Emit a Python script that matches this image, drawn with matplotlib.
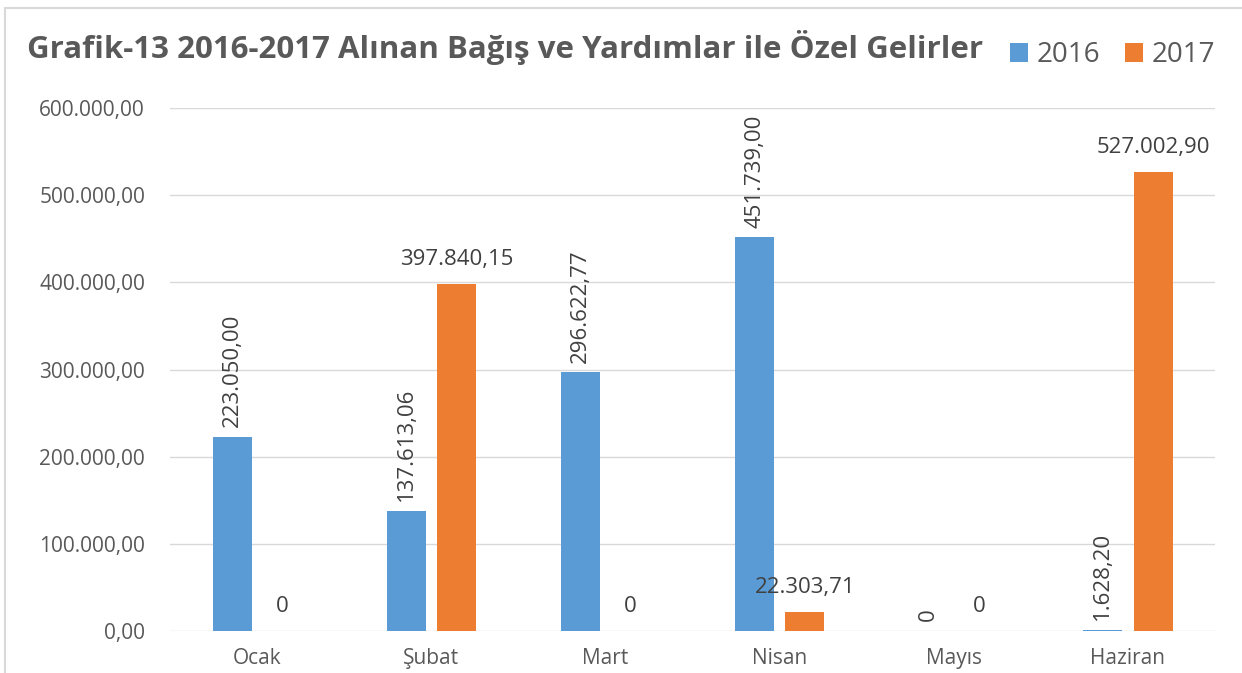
import matplotlib
matplotlib.use('Agg')
import matplotlib.pyplot as plt
from matplotlib.patches import Rectangle
import numpy as np

# veri
aylar = ['Ocak', 'Şubat', 'Mart', 'Nisan', 'Mayıs', 'Haziran']
y2016 = [223050.00, 137613.06, 296622.77, 451739.00, 0, 1628.20]
y2017 = [0, 397840.15, 0, 22303.71, 0, 527002.90]
etiket2016 = ['223.050,00', '137.613,06', '296.622,77', '451.739,00', '0', '1.628,20']
etiket2017 = ['0', '397.840,15', '0', '22.303,71', '0', '527.002,90']
yticks = [0, 100000, 200000, 300000, 400000, 500000, 600000]
ytick_labels = ['0,00', '100.000,00', '200.000,00', '300.000,00', '400.000,00', '500.000,00', '600.000,00']

mavi = '#5B9BD5'
turuncu = '#ED7D31'

plt.rcParams['font.family'] = ['Open Sans', 'DejaVu Sans']

fig = plt.figure(figsize=(12.42, 6.73), dpi=100)
ax = fig.add_axes([0.1369, 0.0624, 0.8414, 0.7771])

x = np.arange(len(aylar))
w = 0.224
off = 0.144
b1 = ax.bar(x - off, y2016, w, color=mavi, label='2016')
b2 = ax.bar(x + off, y2017, w, color=turuncu, label='2017')

# etiketler
for xi, v, t in zip(x, y2016, etiket2016):
    ax.annotate(t, (xi - off, v), xytext=(0, 7), textcoords='offset points',
                rotation=90, ha='center', va='bottom', fontsize=16, color='#404040')
for xi, v, t in zip(x, y2017, etiket2017):
    ax.annotate(t, (xi + off, v), xytext=(0, 10), textcoords='offset points',
                ha='center', va='bottom', fontsize=16, color='#404040')

ax.set_xlim(-0.5, len(aylar) - 0.5)
ax.set_ylim(0, 600000)
ax.set_yticks(yticks)
ax.set_yticklabels(ytick_labels, fontsize=15, color='#595959')
ax.set_xticks(x)
ax.set_xticklabels(aylar, fontsize=15, color='#595959')
ax.tick_params(length=0)
ax.tick_params(axis='x', pad=12)
ax.tick_params(axis='y', pad=18)
ax.grid(axis='y', color='#D9D9D9', linewidth=1)
ax.set_axisbelow(True)
for s in ax.spines.values():
    s.set_visible(False)

fig.text(0.022, 0.929, 'Grafik-13 2016-2017 Alınan Bağış ve Yardımlar ile Özel Gelirler',
         fontsize=22.5, fontweight='bold', color='#595959', va='center')
fig.legend(handles=[b1, b2], loc='center right', bbox_to_anchor=(0.978, 0.918), ncol=2,
           frameon=False, fontsize=20, handlelength=0.65, handleheight=0.65,
           handletextpad=0.3, columnspacing=0.9, labelcolor='#595959',
           borderaxespad=0, borderpad=0)

# çerçeve
fig.patches.append(Rectangle((0.004, -0.05), 1.2, 1.038, transform=fig.transFigure,
                             fill=False, edgecolor='#D9D9D9', linewidth=1.5))

fig.savefig('out.png', dpi=100)
